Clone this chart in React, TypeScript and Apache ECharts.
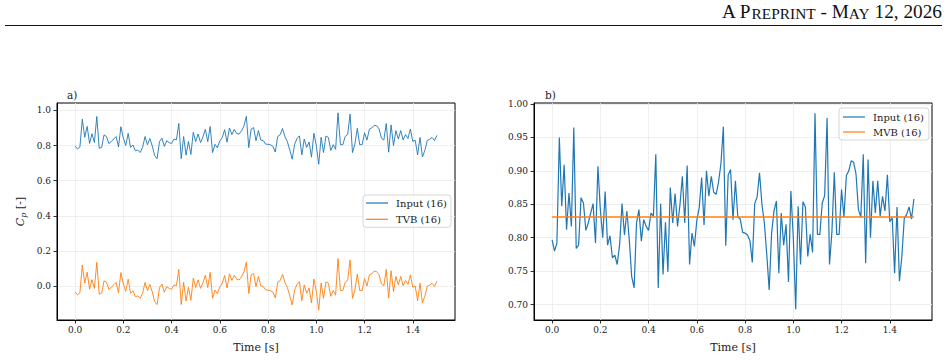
import React, { useEffect, useRef } from "react";
import * as echarts from "echarts";

// ---- data ----
const dt = 0.01;
const inputCp = [
  0.797, 0.780, 0.792, 0.950, 0.847, 0.909, 0.812, 0.867, 0.817, 0.965,
  0.784, 0.789, 0.860, 0.852, 0.811, 0.822, 0.837, 0.851, 0.792, 0.907,
  0.842, 0.800, 0.869, 0.789, 0.803, 0.770, 0.774, 0.760, 0.790, 0.851,
  0.804, 0.840, 0.797, 0.742, 0.725, 0.822, 0.842, 0.795, 0.827, 0.817,
  0.811, 0.837, 0.832, 0.925, 0.725, 0.851, 0.745, 0.823, 0.749, 0.875,
  0.822, 0.866, 0.817, 0.849, 0.892, 0.822, 0.908, 0.760, 0.807, 0.787,
  0.826, 0.845, 0.890, 0.819, 0.900, 0.862, 0.892, 0.868, 0.865, 0.883,
  0.911, 0.966, 0.788, 0.894, 0.902, 0.827, 0.885, 0.831, 0.828, 0.808,
  0.807, 0.804, 0.796, 0.763, 0.851, 0.861, 0.897, 0.850, 0.822, 0.775,
  0.722, 0.807, 0.840, 0.855, 0.747, 0.837, 0.789, 0.820, 0.734, 0.870,
  0.800, 0.693, 0.847, 0.760, 0.854, 0.846, 0.772, 0.805, 0.778, 0.986,
  0.805, 0.805, 0.852, 0.863, 0.979, 0.760, 0.808, 0.898, 0.805, 0.805,
  0.872, 0.831, 0.893, 0.900, 0.915, 0.913, 0.895, 0.842, 0.831, 0.925,
  0.762, 0.917, 0.800, 0.885, 0.837, 0.885, 0.832, 0.862, 0.840, 0.894,
  0.824, 0.830, 0.747, 0.846, 0.735, 0.772, 0.829, 0.835, 0.846, 0.828,
  0.858,
];
const tvbCp = [
  -0.033, -0.050, -0.038, 0.120, 0.017, 0.079, -0.018, 0.037, -0.013, 0.135,
  -0.046, -0.041, 0.030, 0.022, -0.019, -0.008, 0.007, 0.021, -0.038, 0.077,
  0.012, -0.030, 0.039, -0.041, -0.027, -0.060, -0.056, -0.070, -0.040, 0.021,
  -0.026, 0.010, -0.033, -0.088, -0.105, -0.008, 0.012, -0.035, -0.003, -0.013,
  -0.019, 0.007, 0.002, 0.095, -0.105, 0.021, -0.085, -0.007, -0.081, 0.045,
  -0.008, 0.036, -0.013, 0.019, 0.062, -0.008, 0.078, -0.070, -0.023, -0.043,
  -0.004, 0.015, 0.060, -0.011, 0.070, 0.032, 0.062, 0.038, 0.035, 0.053,
  0.081, 0.136, -0.042, 0.064, 0.072, -0.003, 0.055, 0.001, -0.002, -0.022,
  -0.023, -0.026, -0.034, -0.067, 0.021, 0.031, 0.067, 0.020, -0.008, -0.055,
  -0.108, -0.023, 0.010, 0.025, -0.083, 0.007, -0.041, -0.010, -0.096, 0.040,
  -0.030, -0.137, 0.017, -0.070, 0.024, 0.016, -0.058, -0.025, -0.052, 0.156,
  -0.025, -0.025, 0.022, 0.033, 0.149, -0.070, -0.022, 0.068, -0.025, -0.025,
  0.042, 0.001, 0.063, 0.070, 0.085, 0.083, 0.065, 0.012, 0.001, 0.095,
  -0.068, 0.087, -0.030, 0.055, 0.007, 0.055, 0.002, 0.032, 0.010, 0.064,
  -0.006, 0.000, -0.083, 0.016, -0.095, -0.058, -0.001, 0.005, 0.016, -0.002,
  0.028,
];
const mvbValue = 0.831;
const mvbSpan = [0.0, 1.5];
const timeTicks = [0.0, 0.2, 0.4, 0.6, 0.8, 1.0, 1.2, 1.4];
const leftYTicks = [0.0, 0.2, 0.4, 0.6, 0.8, 1.0];
const rightYTicks = [0.7, 0.75, 0.8, 0.85, 0.9, 0.95, 1.0];
const seriesNames = { input: "Input (16)", tvb: "TVB (16)", mvb: "MVB (16)" };

const BLUE = "#1f77b4";
const ORANGE = "#ff7f0e";
const SERIF = "DejaVu Serif";

export default function App() {
  const ref = useRef<HTMLDivElement>(null);

  useEffect(() => {
    if (!ref.current) return;
    const chart = echarts.init(ref.current, undefined, { renderer: "svg" });

    const timeOf = (i: number) => Math.round(i * dt * 100) / 100;
    const inputPairs = inputCp.map((v, i) => [timeOf(i), v]);
    const tvbPairs = tvbCp.map((v, i) => [timeOf(i), v]);
    const mvbPairs = mvbSpan.map((t) => [t, mvbValue]);

    const tickLabel = { fontFamily: SERIF, fontSize: 9, color: "#222" };

    const xAxisBase = (gridIndex: number) => ({
      type: "value",
      gridIndex,
      min: -0.075,
      max: 1.575,
      axisLine: { show: true, onZero: false, lineStyle: { color: "#000", width: 1 } },
      axisTick: { show: true, length: 3.5, lineStyle: { color: "#000", width: 0.8 }, customValues: timeTicks },
      axisLabel: {
        ...tickLabel,
        margin: 5.5,
        customValues: timeTicks,
        formatter: (v: number) => v.toFixed(1),
      },
      splitLine: { show: true, lineStyle: { color: "#ebebeb", width: 0.8 } },
      name: "Time [s]",
      nameLocation: "middle",
      nameGap: 22,
      nameTextStyle: { fontFamily: SERIF, fontSize: 11, color: "#222" },
    });

    const yAxisBase = (gridIndex: number, min: number, max: number, ticks: number[], digits: number) => ({
      type: "value",
      gridIndex,
      min,
      max,
      axisLine: { show: true, onZero: false, lineStyle: { color: "#000", width: 1 } },
      axisTick: { show: true, length: 3.5, lineStyle: { color: "#000", width: 0.8 }, customValues: ticks },
      axisLabel: {
        ...tickLabel,
        margin: 6,
        customValues: ticks,
        formatter: (v: number) => v.toFixed(digits),
      },
      splitLine: { show: true, lineStyle: { color: "#ebebeb", width: 0.8 } },
    });

    const legendBase = {
      orient: "vertical",
      icon: "rect",
      itemWidth: 22,
      itemHeight: 1.2,
      itemStyle: { borderWidth: 0 },
      textStyle: { fontFamily: SERIF, fontSize: 10, color: "#222", lineHeight: 12, padding: [0, 0, 0, 3] },
      backgroundColor: "rgba(255,255,255,0.8)",
      borderColor: "#cccccc",
      borderWidth: 0.8,
      borderRadius: 3,
      selectedMode: false,
    };

    chart.setOption({
      animation: false,
      backgroundColor: "#fff",
      title: [
        { text: "a)", left: 62, top: 84, textStyle: { fontFamily: SERIF, fontSize: 10.5, fontWeight: "normal", color: "#222" } },
        { text: "b)", left: 540, top: 84, textStyle: { fontFamily: SERIF, fontSize: 10.5, fontWeight: "normal", color: "#222" } },
      ],
      grid: [
        { left: 57, top: 103, width: 398, height: 217, show: true, borderColor: "#000", borderWidth: 1, containLabel: false, outerBoundsMode: "none" },
        { left: 534, top: 103, width: 398, height: 217, show: true, borderColor: "#000", borderWidth: 1, containLabel: false, outerBoundsMode: "none" },
      ],
      xAxis: [xAxisBase(0), xAxisBase(1)],
      yAxis: [
        {
          ...yAxisBase(0, -0.193, 1.042, leftYTicks, 1),
          name: "{c|C}{s|p}{n| [-]}",
          nameLocation: "middle",
          nameRotate: 90,
          nameGap: 30,
          nameTextStyle: {
            rich: {
              c: { fontFamily: SERIF, fontSize: 11, fontStyle: "italic", color: "#222", lineHeight: 13, verticalAlign: "middle" },
              s: { fontFamily: SERIF, fontSize: 8, fontStyle: "italic", color: "#222", lineHeight: 8, verticalAlign: "bottom" },
              n: { fontFamily: SERIF, fontSize: 11, color: "#222", lineHeight: 13, verticalAlign: "middle" },
            },
          },
        },
        yAxisBase(1, 0.677, 1.0015, rightYTicks, 2),
      ],
      legend: [
        { ...legendBase, data: [seriesNames.input, seriesNames.tvb], left: 363, top: 195, padding: [2, 4, 2, 3], itemGap: 4.3 },
        { ...legendBase, data: [seriesNames.input, seriesNames.mvb], left: 839, top: 108, padding: [3, 5, 2, 4], itemGap: 3 },
      ],
      series: [
        { name: seriesNames.input, type: "line", xAxisIndex: 0, yAxisIndex: 0, data: inputPairs, symbol: "none", lineStyle: { color: BLUE, width: 0.9 }, itemStyle: { color: BLUE } },
        { name: seriesNames.tvb, type: "line", xAxisIndex: 0, yAxisIndex: 0, data: tvbPairs, symbol: "none", lineStyle: { color: ORANGE, width: 0.9 }, itemStyle: { color: ORANGE } },
        { name: seriesNames.input, type: "line", xAxisIndex: 1, yAxisIndex: 1, data: inputPairs, symbol: "none", lineStyle: { color: BLUE, width: 1.2 }, itemStyle: { color: BLUE } },
        { name: seriesNames.mvb, type: "line", xAxisIndex: 1, yAxisIndex: 1, data: mvbPairs, symbol: "none", lineStyle: { color: ORANGE, width: 1.5 }, itemStyle: { color: ORANGE } },
      ],
      graphic: [
        {
          type: "text",
          right: 6,
          top: 2,
          style: {
            text: "{b|A P}{s|REPRINT}{b| - M}{s|AY}{b| 12, 2026}",
            rich: {
              b: { fontFamily: "Liberation Serif", fontSize: 19.3, fill: "#111", lineHeight: 21, verticalAlign: "bottom" },
              s: { fontFamily: "Liberation Serif", fontSize: 15.4, fill: "#111", lineHeight: 17, verticalAlign: "bottom" },
            },
          },
        },
        {
          type: "line",
          shape: { x1: 5, y1: 25.5, x2: 942, y2: 25.5 },
          style: { stroke: "#111", lineWidth: 1 },
        },
      ],
    });

    return () => chart.dispose();
  }, []);

  return <div ref={ref} style={{ position: "fixed", left: 0, top: 0, width: 948, height: 364 }} />;
}
